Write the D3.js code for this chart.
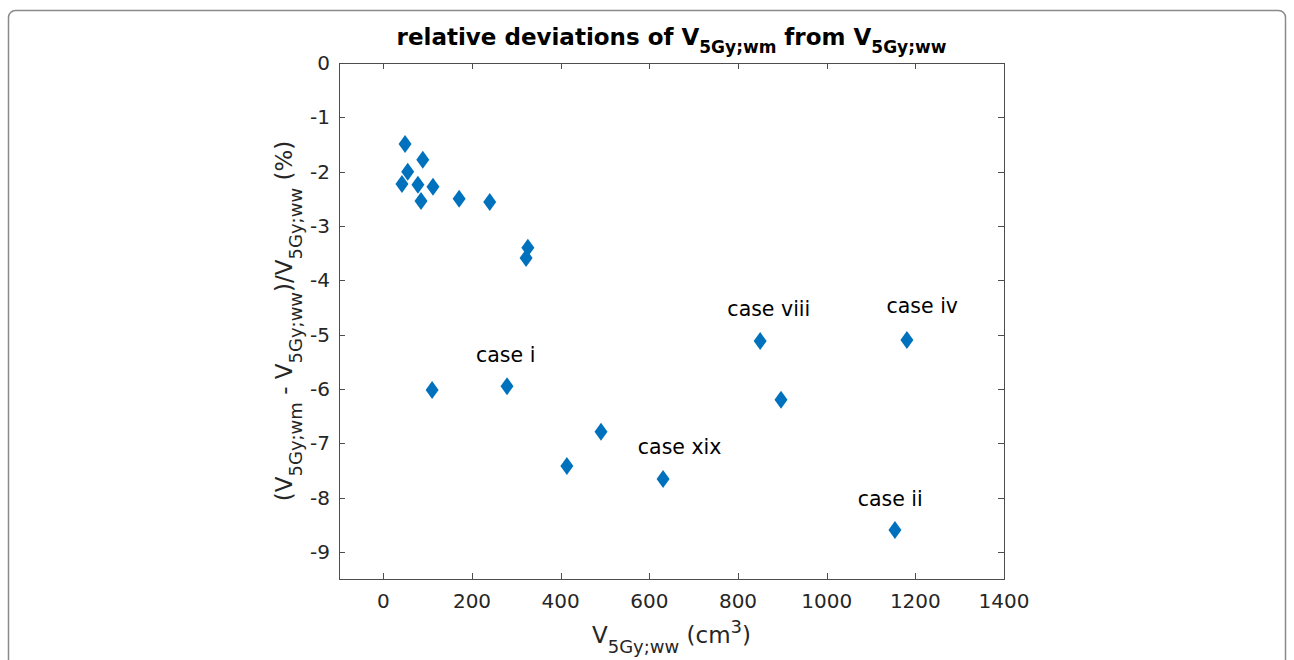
<!DOCTYPE html>
<html>
<head>
<meta charset="utf-8">
<script src="https://cdn.jsdelivr.net/npm/d3@7"></script>
<style>
  body { margin: 0; background: #fff; }
  text { font-family: "DejaVu Sans", sans-serif; fill: #262626; }
</style>
</head>
<body>
<div id="chart"></div>
<script>
// volumes V5Gy;ww (cm3) and relative deviations (%)
const volumes = [49, 55, 89, 42, 78, 85, 112, 171, 240, 326, 322, 110, 279, 414, 491, 631, 850, 897, 1181, 1154];
const deviations = [-1.49, -2.0, -1.78, -2.23, -2.24, -2.54, -2.28, -2.50, -2.56, -3.40, -3.59, -6.02, -5.95, -7.42, -6.79, -7.66, -5.12, -6.20, -5.10, -8.60];

// annotations (text start in data coordinates)
const labelText = ["case i", "case xix", "case viii", "case iv", "case ii"];
const labelX = [209, 574, 776, 1135, 1070];
const labelY = [-5.5, -7.2, -4.65, -4.61, -8.15];

const xTicks = [0, 200, 400, 600, 800, 1000, 1200, 1400];
const yTicks = [0, -1, -2, -3, -4, -5, -6, -7, -8, -9];

const W = 1294, H = 660;
const svg = d3.select("#chart").append("svg")
    .attr("width", W)
    .attr("height", H);

// rounded frame
svg.append("rect")
    .attr("x", 8.5).attr("y", 10.5)
    .attr("width", 1277).attr("height", 700)
    .attr("rx", 7)
    .attr("fill", "none")
    .attr("stroke", "#8a8a8a")
    .attr("stroke-width", 1.5);

const mLeft = 339, mRight = 1004, mTop = 63, mBottom = 579;
const x = d3.scaleLinear().domain([-100, 1400]).range([mLeft, mRight]);
const y = d3.scaleLinear().domain([-9.5, 0]).range([mBottom, mTop]);

const axisColor = "#4d4d4d";

// box
svg.append("rect")
    .attr("x", mLeft + 0.5).attr("y", mTop + 0.5)
    .attr("width", mRight - mLeft).attr("height", mBottom - mTop)
    .attr("fill", "none")
    .attr("stroke", axisColor);

const tl = 6;
// inward ticks on all four sides
const tg = svg.append("g").attr("stroke", axisColor);
xTicks.forEach(t => {
    const px = Math.round(x(t)) + 0.5;
    tg.append("line").attr("x1", px).attr("x2", px).attr("y1", mBottom).attr("y2", mBottom - tl);
    tg.append("line").attr("x1", px).attr("x2", px).attr("y1", mTop).attr("y2", mTop + tl);
});
yTicks.forEach(t => {
    const py = Math.round(y(t)) + 0.5;
    tg.append("line").attr("x1", mLeft).attr("x2", mLeft + tl).attr("y1", py).attr("y2", py);
    tg.append("line").attr("x1", mRight).attr("x2", mRight - tl).attr("y1", py).attr("y2", py);
});

svg.append("g").selectAll("text")
    .data(xTicks).enter().append("text")
    .attr("x", d => x(d))
    .attr("y", mBottom + 29)
    .attr("text-anchor", "middle")
    .attr("font-size", 20)
    .text(d => d);

svg.append("g").selectAll("text")
    .data(yTicks).enter().append("text")
    .attr("x", mLeft - 9)
    .attr("y", d => y(d) + 7)
    .attr("text-anchor", "end")
    .attr("font-size", 20)
    .text(d => d === 0 ? "0" : "-" + Math.abs(d));

// points
const diamond = "M0,-9L6.5,0L0,9L-6.5,0Z";
svg.append("g").selectAll("path")
    .data(volumes.map((v, i) => [v, deviations[i]]))
    .enter().append("path")
    .attr("d", diamond)
    .attr("transform", d => `translate(${x(d[0])},${y(d[1])})`)
    .attr("fill", "#0072BD");

// annotations
svg.append("g").selectAll("text")
    .data(labelText).enter().append("text")
    .attr("x", (d, i) => x(labelX[i]))
    .attr("y", (d, i) => y(labelY[i]))
    .attr("font-size", 20.5)
    .style("fill", "#000")
    .text(d => d);

// title
const title = svg.append("text")
    .attr("x", (mLeft + mRight) / 2)
    .attr("y", 45)
    .attr("text-anchor", "middle")
    .attr("font-size", 23)
    .attr("font-weight", "bold")
    .style("fill", "#000");
title.append("tspan").text("relative deviations of V");
title.append("tspan").attr("font-size", 17).attr("dy", 8).text("5Gy;wm");
title.append("tspan").attr("dy", -8).text(" from V");
title.append("tspan").attr("font-size", 17).attr("dy", 8).text("5Gy;ww");

// x label
const xl = svg.append("text")
    .attr("x", (mLeft + mRight) / 2)
    .attr("y", 643)
    .attr("text-anchor", "middle")
    .attr("font-size", 23);
xl.append("tspan").text("V");
xl.append("tspan").attr("font-size", 18).attr("dy", 10).text("5Gy;ww");
xl.append("tspan").attr("dy", -10).text(" (cm");
xl.append("tspan").attr("font-size", 18).attr("dy", -10).text("3");
xl.append("tspan").attr("dy", 10).text(")");

// y label
const yl = svg.append("text")
    .attr("transform", `translate(292,${(mTop + mBottom) / 2}) rotate(-90)`)
    .attr("text-anchor", "middle")
    .attr("font-size", 23);
yl.append("tspan").text("(V");
yl.append("tspan").attr("font-size", 18).attr("dy", 10).text("5Gy;wm");
yl.append("tspan").attr("dy", -10).text(" - V");
yl.append("tspan").attr("font-size", 18).attr("dy", 10).text("5Gy;ww");
yl.append("tspan").attr("dy", -10).text(")/V");
yl.append("tspan").attr("font-size", 18).attr("dy", 10).text("5Gy;ww");
yl.append("tspan").attr("dy", -10).text(" (%)");
</script>
</body>
</html>
